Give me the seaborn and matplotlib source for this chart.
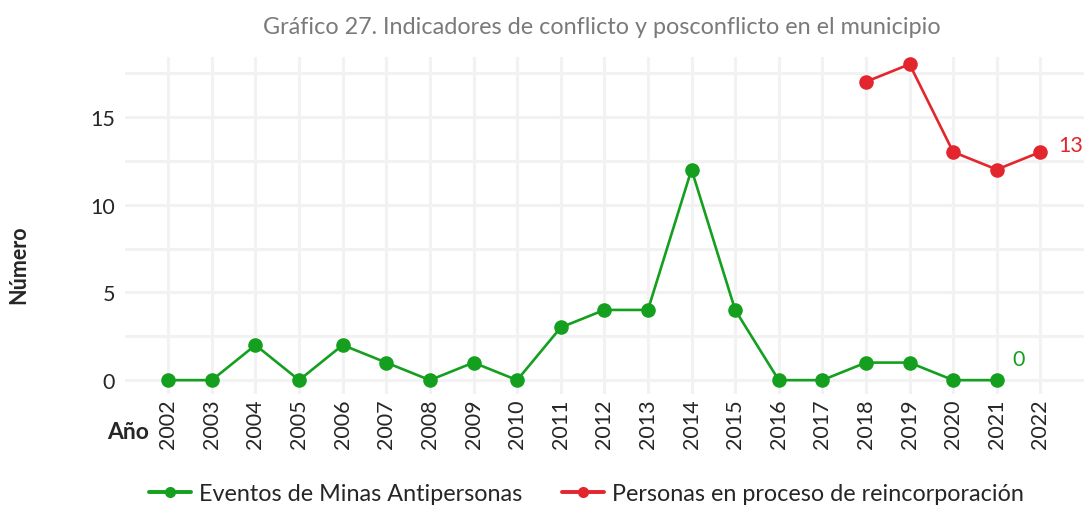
import matplotlib
matplotlib.use("Agg")
import matplotlib.pyplot as plt
import seaborn as sns
import pandas as pd
from matplotlib.ticker import MultipleLocator
from matplotlib.lines import Line2D

# Series data
years_minas = list(range(2002, 2022))
minas = [0, 0, 2, 0, 2, 1, 0, 1, 0, 3, 4, 4, 12, 4, 0, 0, 1, 1, 0, 0]
years_reinc = [2018, 2019, 2020, 2021, 2022]
reinc = [17, 18, 13, 12, 13]
serie_minas = "Eventos de Minas Antipersonas"
serie_reinc = "Personas en proceso de reincorporación"
year_ticks = list(range(2002, 2023))

green = "#14a01e"
red = "#e3262e"

df = pd.concat([
    pd.DataFrame({"Año": years_minas, "Número": minas, "Serie": serie_minas}),
    pd.DataFrame({"Año": years_reinc, "Número": reinc, "Serie": serie_reinc}),
], ignore_index=True)

sns.set_theme(style="white")
plt.rcParams["font.family"] = ["Lato", "DejaVu Sans"]

fig = plt.figure(figsize=(10.84, 5.06), dpi=100)
ax = fig.add_axes([0.115, 0.219, 0.885, 0.666])

sns.lineplot(data=df, x="Año", y="Número", hue="Serie",
             palette={serie_minas: green, serie_reinc: red},
             marker="o", markersize=10.5, markeredgewidth=0,
             linewidth=1.9, ax=ax, legend=False)

ax.set_xlim(2001, 2023)
ax.set_ylim(-0.8, 18.4)
ax.set_xticks(year_ticks)
ax.set_xticklabels([str(y) for y in year_ticks], rotation=90, fontsize=15.5)
ax.yaxis.set_major_locator(MultipleLocator(5))
ax.yaxis.set_minor_locator(MultipleLocator(2.5))
ax.tick_params(axis="y", labelsize=15.5, length=0, which="both", pad=7)
ax.tick_params(axis="x", length=0, pad=3)
ax.grid(True, which="both", color="#f2f2f2", linewidth=2.2)
ax.set_axisbelow(True)
for s in ax.spines.values():
    s.set_visible(False)

ax.set_xlabel("")
ax.set_ylabel("")
fig.text(0.017, 0.476, "Número", rotation=90, fontsize=15.5, fontweight="bold",
         ha="center", va="center")
fig.text(0.118, 0.145, "Año", fontsize=16.5, fontweight="bold", ha="center", va="center")

# End-of-series value labels
ax.text(years_minas[-1] + 0.5, minas[-1] + 1.2, str(minas[-1]), color=green,
        fontsize=15.5, ha="center", va="center")
ax.text(years_reinc[-1] + 0.7, reinc[-1] + 0.4, str(reinc[-1]), color=red,
        fontsize=15.5, ha="center", va="center")

fig.text(0.555, 0.945, "Gráfico 27. Indicadores de conflicto y posconflicto en el municipio",
         fontsize=16.8, color="#7a7a7a", ha="center", va="center")

handles = [Line2D([], [], color=green, marker="o", markersize=8, linewidth=2.8, markeredgewidth=0),
           Line2D([], [], color=red, marker="o", markersize=8, linewidth=2.8, markeredgewidth=0)]
fig.legend(handles, [serie_minas, serie_reinc], loc="center", ncol=2,
           bbox_to_anchor=(0.541, 0.022), frameon=False, fontsize=16.8,
           handlelength=1.8, columnspacing=1.7, handletextpad=0.35)

fig.savefig("out.png", dpi=100)
